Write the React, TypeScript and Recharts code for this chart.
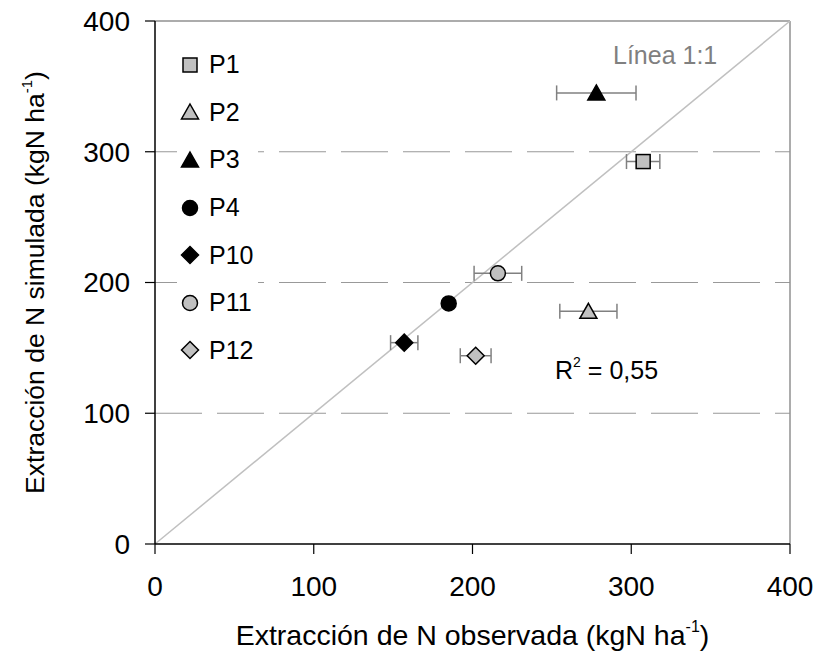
import React from 'react';
import { ScatterChart, Scatter, XAxis, YAxis, ErrorBar, ReferenceLine, ReferenceDot } from 'recharts';

// one entry per plot: observed vs simulated N uptake, with the observed SD
const plots = ['P1', 'P2', 'P3', 'P4', 'P10', 'P11', 'P12'];
const observed = [307.5, 273, 278, 185, 157, 216, 202];
const simulated = [292.5, 178, 345, 184, 154, 207, 144];
const observedSd = [10.5, 18, 25, null, 8.6, 15, 9.7];

const axisTicks = [0, 100, 200, 300, 400];
const gridLevels = [100, 200, 300];

type Kind = 'square' | 'triangle' | 'circle' | 'diamond';
const markerKinds: Kind[] = ['square', 'triangle', 'triangle', 'circle', 'diamond', 'circle', 'diamond'];
const markerFills = ['#c0c0c0', '#c0c0c0', '#000', '#000', '#000', '#c0c0c0', '#c0c0c0'];

const FONT = '"Liberation Sans", Arial, Helvetica, sans-serif';
const W = 813;
const H = 655;

const Marker = ({ kind, fill, cx, cy }: { kind: Kind; fill: string; cx: number; cy: number }) => {
    const common = { fill, stroke: '#000', strokeWidth: 1.5 };
    switch (kind) {
        case 'square':
            return <rect x={cx - 7} y={cy - 7} width={14} height={14} {...common} />;
        case 'triangle':
            return <polygon points={`${cx},${cy - 8} ${cx + 8.5},${cy + 7} ${cx - 8.5},${cy + 7}`} {...common} />;
        case 'circle':
            return <circle cx={cx} cy={cy} r={7.5} {...common} />;
        default:
            return <polygon points={`${cx},${cy - 8.5} ${cx + 8.5},${cy} ${cx},${cy + 8.5} ${cx - 8.5},${cy}`} {...common} />;
    }
};

const XTitle = ({ viewBox }: any) => (
    <text x={viewBox.x + viewBox.width / 2} y={645} textAnchor="middle" fontSize={28.5} fontFamily={FONT} fill="#000">
        Extracción de N observada (kgN ha
        <tspan dy={-13} fontSize={16}>-1</tspan>
        <tspan dy={13}>)</tspan>
    </text>
);

const YTitle = ({ viewBox }: any) => {
    const cy = viewBox.y + viewBox.height / 2;
    return (
        <text x={44} y={cy} transform={`rotate(-90 44 ${cy})`} textAnchor="middle" fontSize={26.5} fontFamily={FONT} fill="#000">
            Extracción de N simulada (kgN ha
            <tspan dy={-12} fontSize={15}>-1</tspan>
            <tspan dy={12}>)</tspan>
        </text>
    );
};

const LineNote = ({ viewBox }: any) => (
    <text x={viewBox.x} y={viewBox.y} fontSize={25} fontFamily={FONT} fill="#808080">
        Línea 1:1
    </text>
);

const R2Note = ({ viewBox }: any) => (
    <text x={viewBox.x} y={viewBox.y} fontSize={25} fontFamily={FONT} fill="#000">
        R<tspan dy={-12} fontSize={14}>2</tspan>
        <tspan dy={12}> = 0,55</tspan>
    </text>
);

const LegendBox = () => (
    <div
        style={{
            position: 'absolute',
            left: 177,
            top: 41,
            width: 81,
            background: '#fff',
            fontFamily: FONT,
            fontSize: 25,
            color: '#000',
        }}
    >
        {plots.map((p, i) => (
            <div key={p} style={{ height: 47.6, display: 'flex', alignItems: 'center' }}>
                <svg width={28} height={24} style={{ flex: 'none' }}>
                    <Marker kind={markerKinds[i]} fill={markerFills[i]} cx={13} cy={12} />
                </svg>
                <span style={{ marginLeft: 4 }}>{p}</span>
            </div>
        ))}
    </div>
);

export default function App() {
    return (
        <div style={{ position: 'absolute', left: 0, top: 0, width: W, height: H, background: '#fff' }}>
            <ScatterChart width={W} height={H} margin={{ top: 21, right: 23, bottom: 0, left: 0 }} style={{ fontFamily: FONT }}>
                <XAxis
                    type="number"
                    dataKey="x"
                    domain={[0, 400]}
                    ticks={axisTicks}
                    allowDataOverflow
                    height={111}
                    tickSize={10}
                    tickMargin={22}
                    axisLine={{ stroke: '#000', strokeWidth: 1.5 }}
                    tickLine={{ stroke: '#000', strokeWidth: 1.2 }}
                    tick={{ fill: '#000', fontSize: 28 }}
                    label={{ content: XTitle }}
                />
                <YAxis
                    type="number"
                    dataKey="y"
                    domain={[0, 400]}
                    ticks={axisTicks}
                    allowDataOverflow
                    width={155}
                    tickSize={10}
                    tickMargin={15}
                    axisLine={{ stroke: '#000', strokeWidth: 1.5 }}
                    tickLine={{ stroke: '#000', strokeWidth: 1.2 }}
                    tick={{ fill: '#000', fontSize: 28 }}
                    label={{ content: YTitle }}
                />
                {gridLevels.map((v) => (
                    <ReferenceLine key={v} y={v} stroke="#999" strokeWidth={1.2} strokeDasharray="47 15" />
                ))}
                <ReferenceLine y={400} stroke="#909090" strokeWidth={1.5} />
                <ReferenceLine x={400} stroke="#909090" strokeWidth={1.5} />
                <ReferenceLine
                    segment={[{ x: 0, y: 0 }, { x: 400, y: 400 }]}
                    stroke="#c0c0c0"
                    strokeWidth={1.5}
                />
                <ReferenceDot x={288.5} y={367} r={0} fill="none" stroke="none" label={{ content: LineNote }} />
                <ReferenceDot x={252} y={126} r={0} fill="none" stroke="none" label={{ content: R2Note }} />
                {plots.map((p, i) => (
                    <Scatter
                        key={p}
                        name={p}
                        data={[{ x: observed[i], y: simulated[i], sd: observedSd[i] }]}
                        isAnimationActive={false}
                        shape={(props: any) => (
                            <Marker kind={markerKinds[i]} fill={markerFills[i]} cx={props.cx} cy={props.cy} />
                        )}
                    >
                        <ErrorBar dataKey="sd" direction="x" width={7.5} stroke="#808080" strokeWidth={1.5} isAnimationActive={false} />
                    </Scatter>
                ))}
            </ScatterChart>
            <LegendBox />
        </div>
    );
}
